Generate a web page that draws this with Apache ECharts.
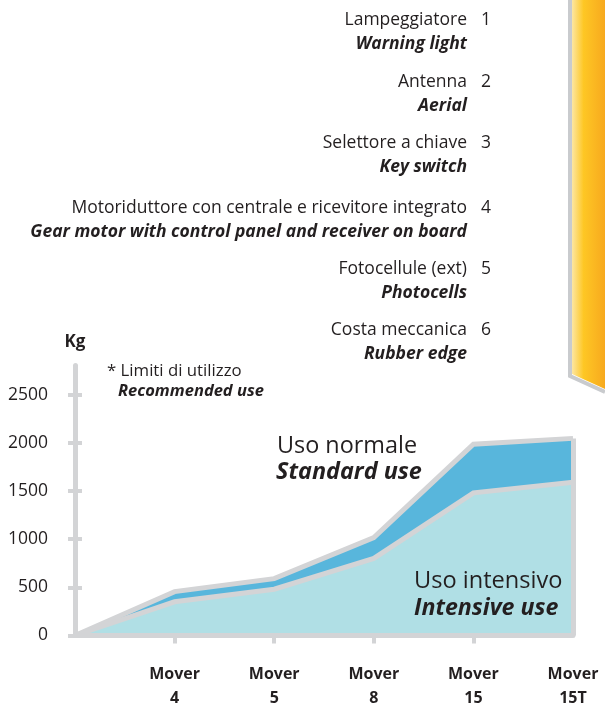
<!DOCTYPE html>
<html>
<head>
<meta charset="utf-8">
<script src="https://cdn.jsdelivr.net/npm/echarts@6/dist/echarts.min.js"></script>
<style>
html,body{margin:0;padding:0;background:#fff;}
#chart{width:605px;height:719px;}
</style>
</head>
<body>
<div id="chart"></div>
<script>
// ---- data ----
var categories = ['', 'Mover 4', 'Mover 5', 'Mover 8', 'Mover 15', 'Mover 15T'];
var standardUse = [0, 455, 590, 1015, 1985, 2045];
var intensiveUse = [0, 350, 480, 800, 1480, 1590];
var yTicks = [0, 500, 1000, 1500, 2000, 2500];
var listIt = ['Lampeggiatore', 'Antenna', 'Selettore a chiave', 'Motoriduttore con centrale e ricevitore integrato', 'Fotocellule (ext)', 'Costa meccanica'];
var listEn = ['Warning light', 'Aerial', 'Key switch', 'Gear motor with control panel and receiver on board', 'Photocells', 'Rubber edge'];
var listNum = ['1', '2', '3', '4', '5', '6'];

var FONT = '"Open Sans"';
var TXT = '#231f20';
var GREY = '#d3d4d6';

var chart = echarts.init(document.getElementById('chart'), null, {renderer: 'canvas'});

var listY = [20, 82, 143, 208, 269, 330];
var graphics = [];
// yellow bar decoration
graphics.push({
  type: 'polygon', silent: true, z: 1,
  shape: {points: [[572, 0], [605, 0], [605, 389], [572, 374]]},
  style: {fill: new echarts.graphic.LinearGradient(0, 0, 1, 0, [
    {offset: 0, color: '#fde6a2'},
    {offset: 0.35, color: '#fec724'},
    {offset: 1, color: '#f7a91e'}
  ])}
});
graphics.push({
  type: 'polyline', silent: true, z: 2,
  shape: {points: [[570, 0], [570, 376], [605, 392]]},
  style: {stroke: '#c9cbce', lineWidth: 4, fill: null}
});
for (var i = 0; i < listIt.length; i++) {
  graphics.push({type: 'text', x: 467, y: listY[i], silent: true,
    style: {text: listIt[i], font: '17.5px ' + FONT, fill: TXT, align: 'right', verticalAlign: 'middle'}});
  graphics.push({type: 'text', x: 481, y: listY[i], silent: true,
    style: {text: listNum[i], font: '17.5px ' + FONT, fill: TXT, align: 'left', verticalAlign: 'middle'}});
  graphics.push({type: 'text', x: 467, y: listY[i] + 24, silent: true,
    style: {text: listEn[i], font: 'italic bold 17.5px ' + FONT, fill: TXT, align: 'right', verticalAlign: 'middle'}});
}
// annotations
graphics.push({type: 'text', x: 107, y: 371, silent: true,
  style: {text: '* Limiti di utilizzo', font: '16.8px ' + FONT, fill: TXT, verticalAlign: 'middle'}});
graphics.push({type: 'text', x: 118, y: 391, silent: true,
  style: {text: 'Recommended use', font: 'italic bold 16.5px ' + FONT, fill: TXT, verticalAlign: 'middle'}});
graphics.push({type: 'text', x: 277, y: 446, silent: true, z: 20,
  style: {text: 'Uso normale', font: '23.4px ' + FONT, fill: TXT, verticalAlign: 'middle'}});
graphics.push({type: 'text', x: 276, y: 472, silent: true, z: 20,
  style: {text: 'Standard use', font: 'italic bold 23.4px ' + FONT, fill: TXT, verticalAlign: 'middle'}});
graphics.push({type: 'text', x: 414, y: 581, silent: true, z: 20,
  style: {text: 'Uso intensivo', font: '23.6px ' + FONT, fill: TXT, verticalAlign: 'middle'}});
graphics.push({type: 'text', x: 414, y: 608, silent: true, z: 20,
  style: {text: 'Intensive use', font: 'italic bold 23.2px ' + FONT, fill: TXT, verticalAlign: 'middle'}});

var option = {
  animation: false,
  backgroundColor: '#fff',
  textStyle: {fontFamily: FONT},
  grid: {left: 75, right: 32, top: 365.6, bottom: 83.5, containLabel: false},
  xAxis: {
    type: 'category', data: categories, boundaryGap: false, z: 10,
    axisLine: {show: true, lineStyle: {color: GREY, width: 5}},
    axisTick: {show: true, length: 8, lineStyle: {color: GREY, width: 4},
      interval: function (idx) { return idx > 0 && idx < categories.length - 1; }},
    axisLabel: {
      interval: 0, margin: 27, color: TXT, fontWeight: 'bold', fontSize: 16, lineHeight: 24,
      fontFamily: 'Open Sans',
      formatter: function (v) { return v.replace(' ', '\n'); }
    },
    splitLine: {show: false}
  },
  yAxis: [{
    type: 'value', min: 0, max: 2800, z: 10,
    name: 'Kg', nameLocation: 'end', nameGap: 15,
    nameTextStyle: {color: TXT, fontWeight: 'bold', fontSize: 17, fontFamily: 'Open Sans'},
    axisLine: {show: true, lineStyle: {color: GREY, width: 5}},
    axisTick: {show: true, length: 7, customValues: yTicks, lineStyle: {color: GREY, width: 4}},
    axisLabel: {customValues: yTicks, margin: 27, color: TXT, fontSize: 17.5, fontFamily: 'Open Sans',
      formatter: function (v) { return String(v); }},
    splitLine: {show: false}
  }, {
    type: 'value', min: 0, max: 2800, position: 'left', z: 10,
    axisLine: {show: false},
    axisTick: {show: true, inside: true, length: 7, customValues: yTicks, lineStyle: {color: GREY, width: 4}},
    axisLabel: {show: false},
    splitLine: {show: false}
  }],
  series: [{
    name: 'Standard use', type: 'line', data: standardUse, yAxisIndex: 0,
    symbol: 'none', z: 2, silent: true,
    lineStyle: {color: GREY, width: 5, join: 'miter'},
    areaStyle: {color: '#58b6dc', opacity: 1}
  }, {
    name: 'Intensive use', type: 'line', data: intensiveUse, yAxisIndex: 0,
    symbol: 'none', z: 3, silent: true,
    lineStyle: {color: GREY, width: 5, join: 'miter'},
    areaStyle: {color: '#b0dfe5', opacity: 1},
    markLine: {
      silent: true, symbol: 'none', label: {show: false},
      lineStyle: {color: GREY, width: 5, type: 'solid'},
      emphasis: {disabled: true},
      data: [[{coord: [categories.length - 1, 0]}, {coord: [categories.length - 1, standardUse[standardUse.length - 1]]}]]
    }
  }],
  graphic: graphics
};
chart.setOption(option);
</script>
</body>
</html>
